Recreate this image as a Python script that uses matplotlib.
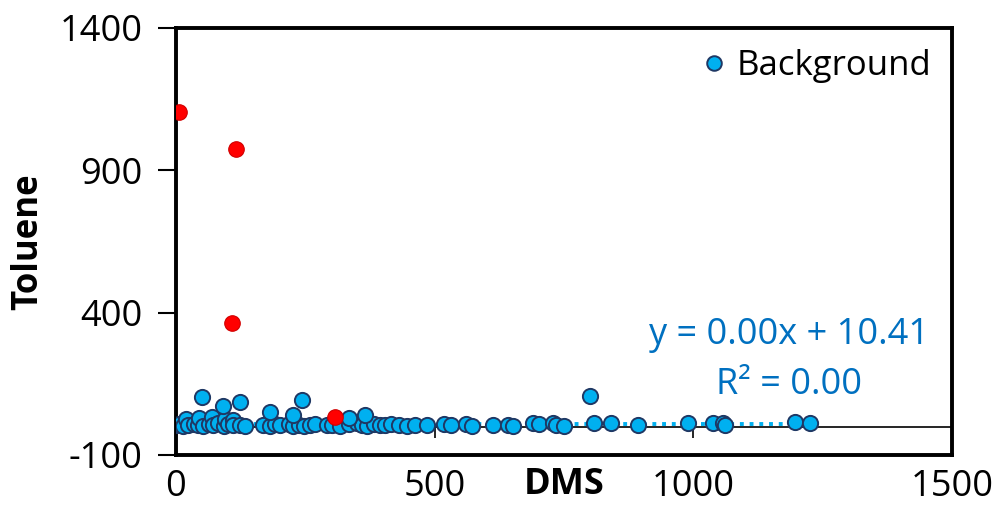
import matplotlib as mpl
mpl.use("Agg")
import matplotlib.pyplot as plt
from matplotlib.lines import Line2D

plt.rcParams["font.family"] = ["Open Sans", "DejaVu Sans"]
plt.rcParams["axes.unicode_minus"] = False

# --- data ---
bg_dms = [1, 5, 14, 20, 24, 34, 43, 45, 53, 63, 70, 72, 82, 92, 95, 101, 110, 111,
          124, 134, 169, 182, 192, 202, 218, 227, 237, 247, 260, 269, 292, 302,
          318, 334, 350, 360, 370, 382, 395, 405, 415, 431, 447, 463, 486, 518,
          531, 560, 573, 612, 641, 651, 690, 702, 728, 734, 751, 809, 841, 893,
          990, 1038, 1058, 1061, 1197, 1226,
          51, 90, 124, 244, 182, 226, 366, 335, 800]
bg_tol = [5, 8, 3, 25, 6, 10, 4, 30, 2, 9, 35, 5, 12, 3, 28, 8, 22, 4,
          6, 3, 5, 2, 8, 4, 10, 3, 6, 2, 5, 9, 4, 7,
          3, 8, 12, 5, 3, 10, 6, 4, 8, 5, 3, 7, 5, 9,
          4, 10, 3, 7, 5, 3, 12, 9, 14, 5, 3, 13, 14, 4,
          14, 12, 13, 4, 15, 14,
          105, 73, 87, 93, 50, 40, 40, 31, 108]
out_dms = [5, 116, 108, 308]
out_tol = [1106, 976, 365, 34]

slope, intercept = 0.00, 10.41

BLUE = "#00B0F0"
EDGE = "#1F3864"
EQ = "#0070C0"

fig = plt.figure(figsize=(9.93, 5.07), dpi=100)
ax = fig.add_axes([0.1772, 0.1026, 0.7815, 0.8422])

x0, x1 = min(bg_dms), max(bg_dms)
ax.plot([x0, x1], [slope * x0 + intercept, slope * x1 + intercept], ls=(0, (1, 1.5)),
        color=BLUE, lw=2.8, zorder=2)
ax.scatter(bg_dms, bg_tol, s=120, c=BLUE, edgecolors=EDGE, linewidths=1.4, zorder=3)
ax.scatter(out_dms, out_tol, s=125, c="#FF0000", edgecolors="#D00000", linewidths=0.8,
           zorder=4)

ax.set_xlim(0, 1500)
ax.set_ylim(-100, 1400)
ax.set_xticks([0, 500, 1000, 1500])
ax.set_yticks([-100, 400, 900, 1400])

# horizontal axis crosses at y = 0
ax.axhline(0, color="black", lw=1.2, zorder=1)
ax.vlines([500, 1000], -42, 0, color="black", lw=1.2, zorder=1)

for s in ax.spines.values():
    s.set_linewidth(2.8)
ax.tick_params(axis="x", length=0, pad=10, labelsize=26)
ax.tick_params(axis="y", length=13, width=1.5, direction="out", pad=11, labelsize=26)

ax.set_xlabel("DMS", fontsize=26, fontweight="bold", va="center")
ax.xaxis.set_label_coords(0.5, -0.070)
ax.set_ylabel("Toluene", fontsize=25, fontweight="bold", va="center")
ax.yaxis.set_label_coords(-0.190, 0.5)

ax.text(1185, 321, "y = 0.00x + 10.41", ha="center", va="center", fontsize=26, color=EQ)
ax.text(1185, 146, "R² = 0.00", ha="center", va="center", fontsize=26, color=EQ)

handle = Line2D([], [], ls="none", marker="o", markersize=10.5, markerfacecolor=BLUE,
                markeredgecolor=EDGE, markeredgewidth=1.4)
ax.legend([handle], ["Background"], loc="upper right", frameon=False, fontsize=25,
          handletextpad=0.15, borderaxespad=0.2, handlelength=1.0)

fig.savefig("out.png", dpi=100)
